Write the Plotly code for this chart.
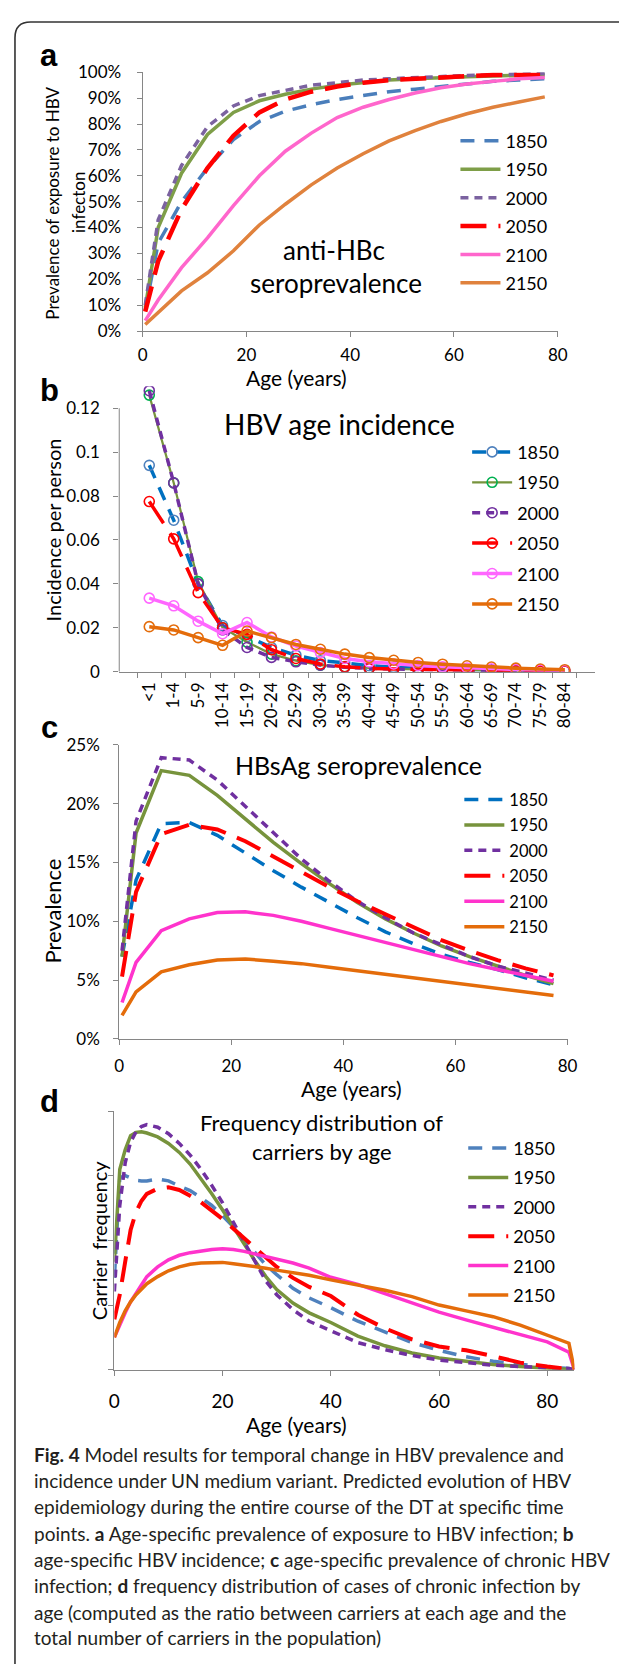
import plotly.graph_objects as go

W, H = 627, 1664
FONT = "Lato"
# the page body adds an 8px margin around the plot div; layout positions compensate for it
OFF = 8

years = ["1850", "1950", "2000", "2050", "2100", "2150"]

# ---------------- Panel a: anti-HBc seroprevalence ----------------
age_mid = [0.5, 3, 7.5, 12.5, 17.5, 22.5, 27.5, 32.5, 37.5, 42.5, 47.5, 52.5, 57.5, 62.5, 67.5, 72.5, 77.5]
a_1850 = [0.08, 0.34, 0.50, 0.63, 0.74, 0.81, 0.85, 0.875, 0.895, 0.91, 0.925, 0.935, 0.945, 0.955, 0.965, 0.97, 0.975]
a_1950 = [0.09, 0.40, 0.61, 0.76, 0.845, 0.89, 0.915, 0.935, 0.95, 0.96, 0.97, 0.975, 0.98, 0.983, 0.986, 0.988, 0.99]
a_2000 = [0.10, 0.43, 0.64, 0.79, 0.87, 0.91, 0.93, 0.95, 0.96, 0.97, 0.975, 0.98, 0.985, 0.988, 0.99, 0.992, 0.995]
a_2050 = [0.075, 0.27, 0.47, 0.63, 0.755, 0.845, 0.895, 0.925, 0.945, 0.96, 0.97, 0.975, 0.98, 0.985, 0.99, 0.99, 0.99]
a_2100 = [0.04, 0.12, 0.245, 0.36, 0.485, 0.60, 0.695, 0.765, 0.825, 0.865, 0.895, 0.92, 0.94, 0.955, 0.965, 0.975, 0.98]
a_2150 = [0.025, 0.07, 0.155, 0.225, 0.31, 0.41, 0.49, 0.565, 0.63, 0.685, 0.735, 0.775, 0.81, 0.84, 0.865, 0.885, 0.905]

# ---------------- Panel b: HBV age incidence ----------------
age_groups = ["<1", "1-4", "5-9", "10-14", "15-19", "20-24", "25-29", "30-34", "35-39",
              "40-44", "45-49", "50-54", "55-59", "60-64", "65-69", "70-74", "75-79", "80-84"]
b_1850 = [0.094, 0.069, 0.040, 0.021, 0.016, 0.011, 0.0075, 0.005, 0.004, 0.0027, 0.002, 0.0015, 0.0012, 0.001, 0.0008, 0.0007, 0.0006, 0.0005]
b_1950 = [0.126, 0.086, 0.041, 0.020, 0.0135, 0.008, 0.005, 0.003, 0.0022, 0.0016, 0.0012, 0.001, 0.0008, 0.0006, 0.0005, 0.0004, 0.0003, 0.0003]
b_2000 = [0.128, 0.086, 0.040, 0.019, 0.011, 0.0065, 0.0045, 0.003, 0.002, 0.0015, 0.0012, 0.001, 0.0008, 0.0006, 0.0005, 0.0004, 0.0003, 0.0003]
b_2050 = [0.0775, 0.0605, 0.036, 0.020, 0.017, 0.010, 0.006, 0.0035, 0.0022, 0.0015, 0.0012, 0.001, 0.0008, 0.0006, 0.0005, 0.0004, 0.0003, 0.0003]
b_2100 = [0.0335, 0.030, 0.023, 0.0173, 0.0224, 0.0158, 0.0117, 0.0087, 0.006, 0.0045, 0.0035, 0.0028, 0.0022, 0.0017, 0.0013, 0.001, 0.0008, 0.0006]
b_2150 = [0.0205, 0.019, 0.0155, 0.012, 0.0185, 0.0155, 0.0124, 0.0102, 0.0080, 0.0064, 0.0052, 0.0042, 0.0034, 0.0027, 0.0021, 0.0016, 0.0012, 0.0009]
b_ticks = [0, 0.02, 0.04, 0.06, 0.08, 0.1, 0.12]
b_ticktext = ["0", "0.02", "0.04", "0.06", "0.08", "0.1", "0.12"]

# ---------------- Panel c: HBsAg seroprevalence ----------------
c_1850 = [0.07, 0.135, 0.183, 0.184, 0.173, 0.158, 0.143, 0.129, 0.116, 0.103, 0.091, 0.081, 0.072, 0.065, 0.059, 0.052, 0.046]
c_1950 = [0.07, 0.175, 0.228, 0.224, 0.207, 0.187, 0.167, 0.149, 0.132, 0.116, 0.102, 0.090, 0.079, 0.070, 0.062, 0.054, 0.047]
c_2000 = [0.075, 0.185, 0.239, 0.237, 0.22, 0.198, 0.175, 0.153, 0.134, 0.117, 0.103, 0.090, 0.080, 0.070, 0.062, 0.056, 0.050]
c_2050 = [0.053, 0.125, 0.174, 0.182, 0.178, 0.168, 0.155, 0.142, 0.129, 0.117, 0.106, 0.095, 0.084, 0.075, 0.067, 0.060, 0.054]
c_2100 = [0.031, 0.065, 0.092, 0.102, 0.1075, 0.108, 0.105, 0.100, 0.094, 0.088, 0.082, 0.076, 0.070, 0.064, 0.059, 0.054, 0.049]
c_2150 = [0.020, 0.040, 0.057, 0.063, 0.067, 0.068, 0.066, 0.064, 0.061, 0.058, 0.055, 0.052, 0.049, 0.046, 0.043, 0.040, 0.037]

# ---------------- Panel d: carrier frequency distribution ----------------
age_d = [0, 1, 2, 3, 4, 5, 6, 8, 10, 12, 14, 16, 18, 20, 22, 24, 26, 28, 30, 33, 36, 40, 45, 50, 55, 60, 65, 70, 75, 80, 84, 85]
d_1850 = [0.0142, 0.0297, 0.0300, 0.0296, 0.0293, 0.0292, 0.0292, 0.0295, 0.0292, 0.0284, 0.0277, 0.0266, 0.0254, 0.0238, 0.0221, 0.0200, 0.0180, 0.0162, 0.0147, 0.0126, 0.0111, 0.0096, 0.0075, 0.0058, 0.0042, 0.0030, 0.0020, 0.0013, 0.0008, 0.0004, 0.0002, 0.0]
d_1950 = [0.0167, 0.0310, 0.0340, 0.0362, 0.0367, 0.0368, 0.0366, 0.0360, 0.0350, 0.0336, 0.0318, 0.0296, 0.0272, 0.0247, 0.0220, 0.0194, 0.0168, 0.0144, 0.0124, 0.0103, 0.0088, 0.0073, 0.0052, 0.0037, 0.0026, 0.0018, 0.0013, 0.0008, 0.0005, 0.0003, 0.0001, 0.0]
d_2000 = [0.0121, 0.0254, 0.0320, 0.0352, 0.0368, 0.0376, 0.0379, 0.0375, 0.0365, 0.0350, 0.0332, 0.0310, 0.0285, 0.0258, 0.0228, 0.0198, 0.0166, 0.0137, 0.0116, 0.0093, 0.0075, 0.0060, 0.0042, 0.0031, 0.0022, 0.0015, 0.0011, 0.0007, 0.0005, 0.0003, 0.0002, 0.0]
d_2050 = [0.0078, 0.0116, 0.0167, 0.0216, 0.0244, 0.0261, 0.0272, 0.0280, 0.0282, 0.0278, 0.0269, 0.0259, 0.0246, 0.0233, 0.0218, 0.0203, 0.0188, 0.0172, 0.0159, 0.0142, 0.0128, 0.0114, 0.0085, 0.0064, 0.0047, 0.0036, 0.0030, 0.0021, 0.0011, 0.0005, 0.0002, 0.0]
d_2100 = [0.0050, 0.0070, 0.0088, 0.0105, 0.0119, 0.0131, 0.0144, 0.0159, 0.0170, 0.0177, 0.0181, 0.0184, 0.0186, 0.0187, 0.0186, 0.0183, 0.0179, 0.0175, 0.0171, 0.0165, 0.0157, 0.0143, 0.0132, 0.0118, 0.0103, 0.0089, 0.0077, 0.0066, 0.0055, 0.0043, 0.0027, 0.0]
d_2150 = [0.0050, 0.0073, 0.0091, 0.0105, 0.0116, 0.0125, 0.0133, 0.0144, 0.0153, 0.0159, 0.0163, 0.0165, 0.0166, 0.0166, 0.0164, 0.0162, 0.0159, 0.0157, 0.0154, 0.0150, 0.0146, 0.0139, 0.0131, 0.0123, 0.0113, 0.0100, 0.0091, 0.0082, 0.0069, 0.0054, 0.0041, 0.0]

caption_lines = [
    "<b>Fig. 4</b> Model results for temporal change in HBV prevalence and",
    "incidence under UN medium variant. Predicted evolution of HBV",
    "epidemiology during the entire course of the DT at specific time",
    "points. <b>a</b> Age-specific prevalence of exposure to HBV infection; <b>b</b>",
    "age-specific HBV incidence; <b>c</b> age-specific prevalence of chronic HBV",
    "infection; <b>d</b> frequency distribution of cases of chronic infection by",
    "age (computed as the ratio between carriers at each age and the",
    "total number of carriers in the population)",
]


def px(x):
    return (x - OFF) / W


def py(y):
    return 1 - (y - OFF) / H


D1850 = "14px,10px"
D2000 = "8px,6px"
D2050 = "26px,12px"

fig = go.Figure()

# panel a
a_style = {
    "1850": ("#4A7EBB", D1850, 3.5), "1950": ("#7E9E48", "solid", 3.5),
    "2000": ("#7B62A0", D2000, 3.5), "2050": ("#FF0000", D2050, 4.5),
    "2100": ("#FF66CC", "solid", 3.5), "2150": ("#E0823D", "solid", 3.5),
}
for yr, vals in zip(years, [a_1850, a_1950, a_2000, a_2050, a_2100, a_2150]):
    c, d, w = a_style[yr]
    fig.add_trace(go.Scatter(x=age_mid, y=vals, mode="lines", name=yr, line=dict(color=c, dash=d, width=w),
                             xaxis="x", yaxis="y", legend="legend", legendgroup="a" + yr))

# panel b
b_style = {
    "1850": ("#0070C0", "#4F81BD", D1850, 3.5), "1950": ("#77933C", "#00B050", "solid", 2.2),
    "2000": ("#7030A0", "#7030A0", D2000, 3.5), "2050": ("#FF0000", "#FF0000", D2050, 3.5),
    "2100": ("#FF66FF", "#FF66FF", "solid", 3.5), "2150": ("#E46C0A", "#E46C0A", "solid", 3.5),
}
for yr, vals in zip(years, [b_1850, b_1950, b_2000, b_2050, b_2100, b_2150]):
    c, mc, d, w = b_style[yr]
    fig.add_trace(go.Scatter(x=age_groups, y=vals, mode="lines+markers", name=yr,
                             line=dict(color=c, dash=d, width=w),
                             marker=dict(symbol="circle-open", size=10, color=mc, line=dict(width=1.6, color=mc)),
                             xaxis="x2", yaxis="y2", legend="legend2", legendgroup="b" + yr))

# panel c
c_style = {
    "1850": ("#0070C0", D1850, 3.5), "1950": ("#77933C", "solid", 3.5),
    "2000": ("#7030A0", D2000, 3.5), "2050": ("#FF0000", D2050, 4),
    "2100": ("#FF33CC", "solid", 3.5), "2150": ("#E46C0A", "solid", 3.5),
}
for yr, vals in zip(years, [c_1850, c_1950, c_2000, c_2050, c_2100, c_2150]):
    c, d, w = c_style[yr]
    fig.add_trace(go.Scatter(x=age_mid, y=vals, mode="lines", name=yr, line=dict(color=c, dash=d, width=w),
                             xaxis="x3", yaxis="y3", legend="legend3", legendgroup="c" + yr))

# panel d
d_style = {
    "1850": ("#4F81BD", D1850, 3.5), "1950": ("#77933C", "solid", 3.5),
    "2000": ("#7030A0", D2000, 3.5), "2050": ("#FF0000", D2050, 4),
    "2100": ("#FF33CC", "solid", 3.5), "2150": ("#E46C0A", "solid", 3.5),
}
for yr, vals in zip(years, [d_1850, d_1950, d_2000, d_2050, d_2100, d_2150]):
    c, d, w = d_style[yr]
    fig.add_trace(go.Scatter(x=age_d, y=vals, mode="lines", name=yr, line=dict(color=c, dash=d, width=w),
                             xaxis="x4", yaxis="y4", legend="legend4", legendgroup="d" + yr))

AX = dict(showgrid=False, zeroline=False, showline=True, linecolor="#868686", linewidth=1,
          ticks="outside", ticklen=5, tickcolor="#868686", tickfont=dict(family=FONT, size=17, color="black"))

fig.update_layout(
    width=W, height=H, autosize=False, margin=dict(l=0, r=0, t=0, b=0),
    paper_bgcolor="white", plot_bgcolor="white",
    font=dict(family=FONT, color="black"),
    xaxis=dict(AX, domain=[px(140), px(566)], range=[0, 80], tickvals=[0, 20, 40, 60, 80], ticklabelstandoff=4, anchor="y"),
    yaxis=dict(AX, domain=[py(324), py(62)], range=[0, 1], tickformat=".0%", dtick=0.1, ticklabelstandoff=12, anchor="x"),
    xaxis2=dict(AX, domain=[px(116), px(604)], type="category", tickson="boundaries", tickangle=-90,
                ticklabelstandoff=3, anchor="y2"),
    yaxis2=dict(AX, domain=[py(669), py(380)], range=[0, 0.13], tickvals=b_ticks, ticktext=b_ticktext,
                showline=False, ticklabelstandoff=10, anchor="x2"),
    xaxis3=dict(AX, domain=[px(116), px(576)], range=[0, 80], tickvals=[0, 20, 40, 60, 80], ticklabelstandoff=7, anchor="y3"),
    yaxis3=dict(AX, domain=[py(1041), py(743)], range=[0, 0.25], tickformat=".0%", dtick=0.05, ticklabelstandoff=10, anchor="x3"),
    xaxis4=dict(AX, domain=[px(111), px(583)], range=[0, 85], tickvals=[0, 20, 40, 60, 80], ticklabelstandoff=9,
                tickfont=dict(family=FONT, size=19, color="black"), anchor="y4"),
    yaxis4=dict(AX, domain=[py(1376), py(1114)], range=[0, 0.04], dtick=0.01, showticklabels=False, anchor="x4"),
)

LEG = dict(font=dict(family=FONT, size=18, color="black"), bgcolor="rgba(0,0,0,0)", traceorder="grouped",
           xanchor="left", yanchor="top", itemwidth=40)
fig.update_layout(
    legend=dict(LEG, x=px(461), y=py(113), tracegroupgap=2),
    legend2=dict(LEG, x=px(473), y=py(428), tracegroupgap=4),
    legend3=dict(LEG, x=px(465), y=py(781), tracegroupgap=1, font=dict(family=FONT, size=16.5, color="black")),
    legend4=dict(LEG, x=px(469), y=py(1133), tracegroupgap=3),
)

# y-axis line for panel b (ends at the top tick, 0.12)
fig.add_shape(type="line", xref="x2 domain", yref="y2", x0=0, x1=0, y0=0, y1=0.12,
              line=dict(color="#868686", width=1))

# outer rounded frame
frame = (f"M {px(9)},{py(1700)} L {px(9)},{py(27)} Q {px(9)},{py(11)} {px(25)},{py(11)} L {px(660)},{py(11)}")
fig.add_shape(type="path", xref="paper", yref="paper", path=frame, line=dict(color="#333333", width=1.6))

ann = []


def txt(x, y, s, size, angle=0, bold=False, xanchor="center", color="black", family=FONT):
    ann.append(dict(x=px(x), y=py(y), xref="paper", yref="paper", text=f"<b>{s}</b>" if bold else s,
                    showarrow=False, textangle=angle, xanchor=xanchor, yanchor="middle",
                    font=dict(family=family, size=size, color=color)))


# panel letters
for letter, yy in [("a", 45), ("b", 384), ("c", 726), ("d", 1104)]:
    txt(44, yy, letter, 31, bold=True, family="Liberation Sans")

# panel a texts
txt(48, 194, "Prevalence of exposure to HBV", 17, angle=-90)
txt(74, 194, "infecton", 17, angle=-90)
txt(298, 371, "Age (years)", 21)
txt(336, 242, "anti-HBc", 26)
txt(338, 275, "seroprevalence", 26)

# panel b texts
txt(48, 525, "Incidence per person", 20, angle=-90)
txt(342, 418, "HBV age incidence", 28)

# panel c texts
txt(48, 911, "Prevalence", 22, angle=-90)
txt(362, 764, "HBsAg seroprevalence", 25)
txt(354, 1091, "Age (years)", 21)

# panel d texts
txt(96, 1245, "Carrier  frequency", 20, angle=-90)
txt(324, 1126, "Frequency distribution of", 22)
txt(324, 1155, "carriers by age", 22)
txt(298, 1431, "Age (years)", 21)

# caption
cap_y = [1462, 1488, 1515, 1542, 1568, 1595, 1622, 1647]
for line, yy in zip(caption_lines, cap_y):
    txt(26, yy, line, 19, xanchor="left", color="#231F20")

fig.update_layout(annotations=ann)
fig.write_html("out.html")
